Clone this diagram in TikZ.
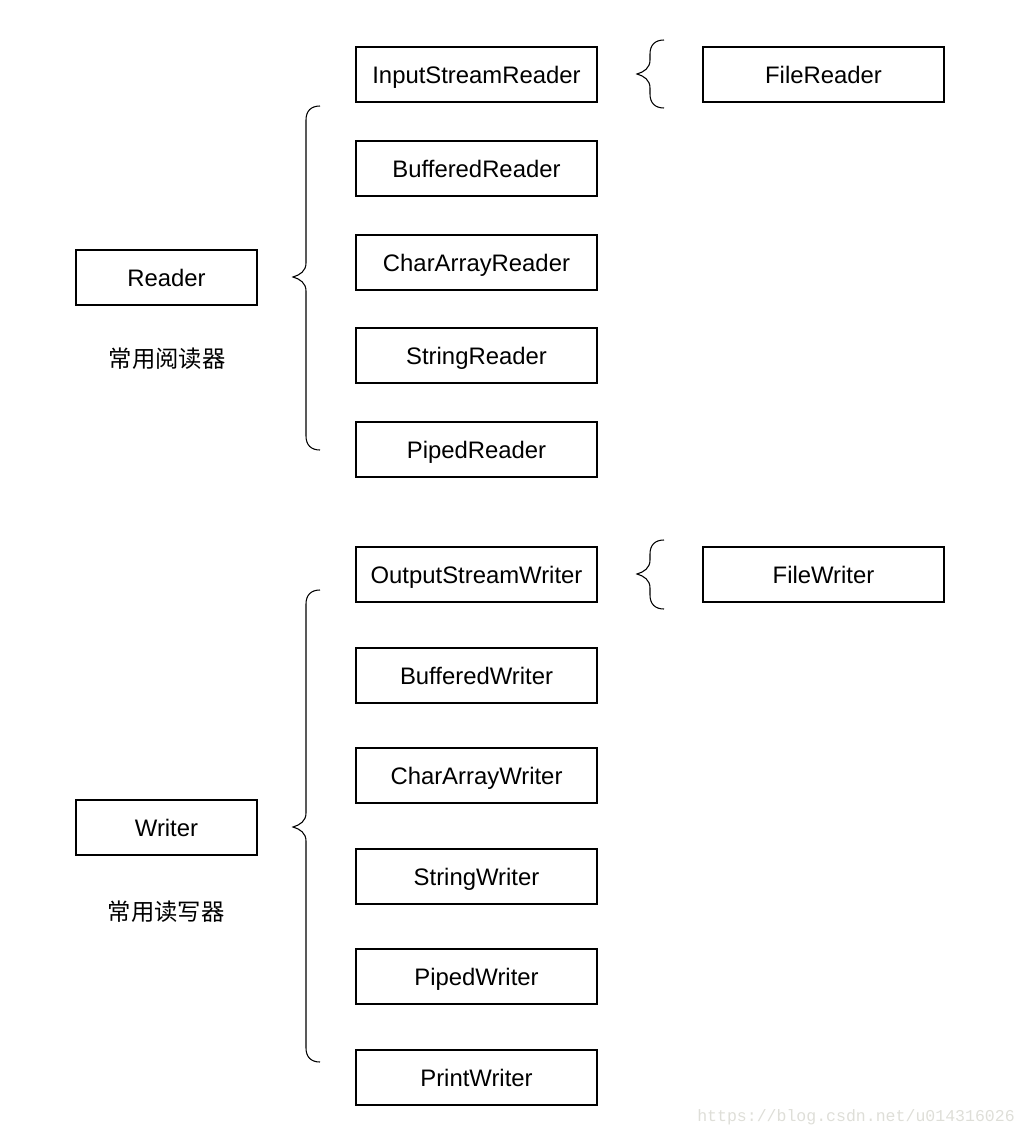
\documentclass[tikz,border=0pt]{standalone}
\usepackage{fontspec}
\setmainfont{Liberation Sans}
\newfontfamily\cjk{Noto Sans CJK SC}
\newfontfamily\wmfont{Liberation Mono}
\usetikzlibrary{positioning}
\definecolor{wmgray}{RGB}{222,222,216}
% curly brace opening to the right: x of stem, top y, tip y, bottom y
\newcommand{\curly}[4]{
  \draw (#1+14,#2) .. controls (#1+5,#2) and (#1,#2+5) .. (#1,#2+14) -- (#1,#3-14)
    .. controls (#1,#3-6) and (#1-6,#3-2) .. (#1-13,#3)
    .. controls (#1-6,#3+2) and (#1,#3+6) .. (#1,#3+14) -- (#1,#4-14)
    .. controls (#1,#4-5) and (#1+5,#4) .. (#1+14,#4);}

\begin{document}
\begin{tikzpicture}[x=0.75pt,y=-0.75pt,line width=0.8pt,
  cls/.style={draw,minimum width=180.75pt,minimum height=41.25pt,inner sep=0pt,text height=13pt,text depth=0pt,font=\fontsize{17.9}{20}\selectfont},
  base/.style={cls,minimum width=135.75pt},
  note/.style={font=\cjk\fontsize{17.5}{20}\selectfont}]
	\useasboundingbox (0,0) rectangle (1026,1138);
	%READERS
	\node[base] (rd) at (166.5,277.5) {Reader};
	\node[note] (rdnote) at (167,359) {常用阅读器};
	\node[cls] (isr) at (476.5,74.5) {InputStreamReader};
	\node[cls] (bfr) at (476.5,168.5) {BufferedReader};
	\node[cls] (car) at (476.5,262.5) {CharArrayReader};
	\node[cls] (str) at (476.5,355.5) {StringReader};
	\node[cls] (ppr) at (476.5,449.5) {PipedReader};
	\node[cls] (fr) at (823.5,74.5) {FileReader};
	\curly{306}{106}{277}{450}
	\curly{650}{40}{74}{108}
	%WRITERS
	\node[base] (wr) at (166.5,827.5) {Writer};
	\node[note] (wrnote) at (166,912) {常用读写器};
	\node[cls] (osw) at (476.5,574.5) {OutputStreamWriter};
	\node[cls] (bfw) at (476.5,675.5) {BufferedWriter};
	\node[cls] (caw) at (476.5,775.5) {CharArrayWriter};
	\node[cls] (stw) at (476.5,876.5) {StringWriter};
	\node[cls] (ppw) at (476.5,976.5) {PipedWriter};
	\node[cls] (prw) at (476.5,1077.5) {PrintWriter};
	\node[cls] (fw) at (823.5,574.5) {FileWriter};
	\curly{306}{590}{827}{1062}
	\curly{650}{540}{574}{609}
	%\node[text=wmgray] at (856,1117) {watermark};
	\node[text=wmgray,font=\wmfont\fontsize{12.4}{14}\selectfont] (wm) at (856,1117) {https://blog.csdn.net/u014316026};
\end{tikzpicture}
\end{document}
